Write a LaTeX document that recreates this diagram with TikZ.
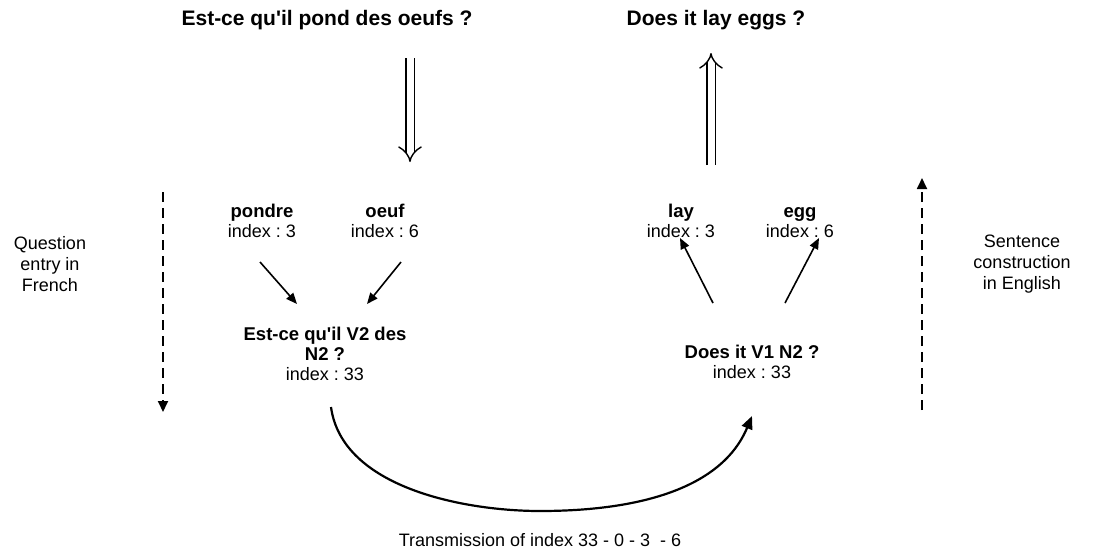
\documentclass[tikz,border=0pt]{standalone}
\usepackage{fontspec}
\setmainfont{Liberation Sans}
\usetikzlibrary{arrows.meta}
\frenchspacing
\tikzset{
  title/.style={font=\fontsize{21}{24}\selectfont\bfseries, inner sep=0pt},
  word/.style={font=\fontsize{18}{20}\selectfont, align=center, inner sep=0pt},
  side/.style={font=\fontsize{18}{21}\selectfont, align=center, inner sep=0pt},
  flow/.style={line width=1.6pt, -{Triangle[length=11pt,width=9pt]}},
  dflow/.style={line width=1.8pt, dash pattern=on 10pt off 6pt, -{Triangle[length=11pt,width=10pt]}},
  hollow/.style={double, line width=1.4pt, double distance=7pt, -{Implies[length=9pt,width=24pt]}},
}
\newcommand{\bw}{\fontsize{18.5}{20}\selectfont\bfseries}
\newcommand{\apo}{\XeTeXglyph\XeTeXcharglyph"0027\relax}
\begin{document}
\begin{tikzpicture}[x=1pt,y=-1pt]
\useasboundingbox (0,0) rectangle (1093,555);
% titles
\node[title] (tfr) at (327,20) {Est-ce qu\apo il pond des oeufs ?};
\node[title] (ten) at (716,20) {Does it lay eggs ?};
% word nodes
\node[word] (pondre) at (262,221) {{\bw\strut pondre}\\index : 3};
\node[word] (oeuf) at (385,221) {{\bw\strut oeuf}\\index : 6};
\node[word] (lay) at (681,221) {{\bw\strut lay}\\index : 3};
\node[word] (egg) at (800,221) {{\bw\strut egg}\\index : 6};
\node[word] (tplfr) at (325,354) {{\bw\strut Est-ce qu\apo il V2 des}\\{\bw\strut N2 ?}\\index : 33};
\node[word] (tplen) at (752,362) {{\bw\strut Does it V1 N2 ?}\\index : 33};
% side labels
\node[side] (qfr) at (50,264) {Question\\entry in\\French};
\node[side] (sen) at (1022,264) {Sentence\\construction\\in English};
\node[word] (cap) at (540,540) {Transmission of index 33 - 0 - 3\ \ - 6};
% connector end points
\coordinate (dfrA) at (410,58);  \coordinate (dfrB) at (410,162);
\coordinate (denA) at (711,165); \coordinate (denB) at (711,53);
\coordinate (a1) at (260,262); \coordinate (a2) at (297,304);
\coordinate (b1) at (401,262); \coordinate (b2) at (367,304);
\coordinate (c1) at (713,303); \coordinate (c2) at (680,238);
\coordinate (e1) at (785,303); \coordinate (e2) at (819,238);
\coordinate (lfA) at (163,192); \coordinate (lfB) at (163,412);
\coordinate (rtA) at (922,410); \coordinate (rtB) at (922,178);
\coordinate (cvA) at (331,407); \coordinate (cvB) at (752,416);
% double arrows
\draw[hollow] (dfrA) -- (dfrB);
\draw[hollow] (denA) -- (denB);
% small arrows
\draw[flow] (a1) -- (a2);
\draw[flow] (b1) -- (b2);
\draw[flow] (c1) -- (c2);
\draw[flow] (e1) -- (e2);
% dashed side arrows
\draw[dflow] (lfA) -- (lfB);
\draw[dflow] (rtA) -- (rtB);
% transmission curve
\draw[line width=2.2pt, -{Triangle[length=13pt,width=11pt]}] (cvA) .. controls (342,488) and (465,511) .. (540,511) .. controls (640,511) and (722,488) .. (cvB);
\end{tikzpicture}
\end{document}
